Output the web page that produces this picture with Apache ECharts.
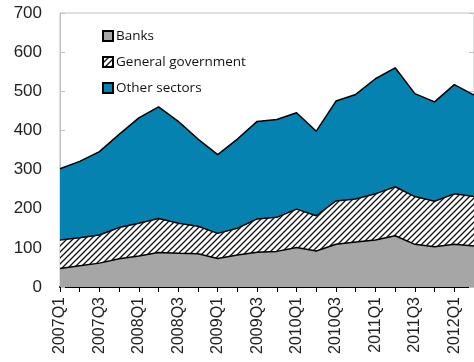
<!DOCTYPE html>
<html>
<head>
<meta charset="utf-8">
<script src="https://cdn.jsdelivr.net/npm/echarts@6/dist/echarts.min.js"></script>
<style>
  html, body { margin: 0; padding: 0; background: #fff; }
  #chart { width: 474px; height: 362px; }
</style>
</head>
<body>
<div id="chart"></div>
<script>
// quarters 2007Q1 .. 2012Q2
const quarters = ['2007Q1', '2007Q2', '2007Q3', '2007Q4', '2008Q1', '2008Q2', '2008Q3', '2008Q4',
  '2009Q1', '2009Q2', '2009Q3', '2009Q4', '2010Q1', '2010Q2', '2010Q3', '2010Q4',
  '2011Q1', '2011Q2', '2011Q3', '2011Q4', '2012Q1', '2012Q2']

const banks = [47, 54, 61, 72, 79, 88, 86, 85, 73, 82, 89, 91, 101, 92, 109, 115, 120, 131, 109, 103, 109, 105]
const generalGov = [73, 72, 72, 80, 84, 87, 77, 70, 64, 68, 85, 87, 98, 90, 111, 110, 118, 125, 122, 116, 129, 126]
const otherSectors = [182, 195, 213, 238, 269, 285, 260, 223, 201, 228, 249, 250, 246, 216, 255, 267, 294, 304, 263, 254, 279, 259]

const yTicks = [0, 100, 200, 300, 400, 500, 600, 700]

// hatch pattern for general government
const makeHatch = () => {
  const size = 6
  const c = document.createElement('canvas')
  c.width = size
  c.height = size
  const ctx = c.getContext('2d')
  ctx.fillStyle = '#fff'
  ctx.fillRect(0, 0, size, size)
  ctx.strokeStyle = '#111'
  ctx.lineWidth = 1.3
  ctx.beginPath()
  ctx.moveTo(0, size)
  ctx.lineTo(size, 0)
  ctx.moveTo(-size / 2, size / 2)
  ctx.lineTo(size / 2, -size / 2)
  ctx.moveTo(size / 2, size * 1.5)
  ctx.lineTo(size * 1.5, size / 2)
  ctx.stroke()
  return c
}
const hatch = { image: makeHatch(), repeat: 'repeat' }

const chart = echarts.init(document.getElementById('chart'))

const areaSeries = (name, data, fill) => ({
  name,
  type: 'line',
  stack: 'total',
  data,
  symbol: 'none',
  lineStyle: { color: '#000', width: 1.5 },
  itemStyle: { color: fill, borderColor: '#000', borderWidth: 1.5 },
  areaStyle: { color: fill, opacity: 1 }
})

chart.setOption({
  animation: false,
  textStyle: { fontFamily: 'Liberation Sans' },
  grid: {
    left: 60, right: -2, top: 13, bottom: 75,
    show: true, borderColor: '#c0c0c0', borderWidth: 1
  },
  legend: {
    orient: 'vertical',
    left: 97,
    top: 24,
    itemWidth: 10,
    itemHeight: 10,
    itemGap: 12,
    icon: 'rect',
    textStyle: { fontFamily: 'Open Sans', fontSize: 13.5, color: '#111', padding: [0, 0, 0, -2] },
    data: ['Banks', 'General government', 'Other sectors']
  },
  xAxis: {
    type: 'category',
    data: quarters,
    boundaryGap: false,
    axisLine: { lineStyle: { color: '#000', width: 2 } },
    axisTick: { interval: 0, length: 5, lineStyle: { color: '#000' } },
    axisLabel: { interval: 1, rotate: 90, fontSize: 16, color: '#222', margin: 10 },
    splitLine: { show: false }
  },
  yAxis: [
    {
      type: 'value',
      min: yTicks[0],
      max: yTicks[yTicks.length - 1],
      interval: 100,
      axisLine: { show: true, lineStyle: { color: '#c0c0c0' } },
      axisTick: { show: true, inside: true, length: 5, lineStyle: { color: '#c0c0c0' } },
      axisLabel: { fontSize: 17, color: '#222', margin: 18 },
      splitLine: { show: false }
    },
    {
      type: 'value',
      position: 'right',
      min: yTicks[0],
      max: yTicks[yTicks.length - 1],
      interval: 100,
      axisLine: { show: true, lineStyle: { color: '#c0c0c0' } },
      axisTick: { show: true, inside: true, length: 5, lineStyle: { color: '#c0c0c0' } },
      axisLabel: { show: false },
      splitLine: { show: false }
    }
  ],
  series: [
    areaSeries('Banks', banks, '#a6a6a6'),
    areaSeries('General government', generalGov, hatch),
    areaSeries('Other sectors', otherSectors, '#0582af')
  ]
})

window.addEventListener('resize', () => chart.resize())
</script>
</body>
</html>
